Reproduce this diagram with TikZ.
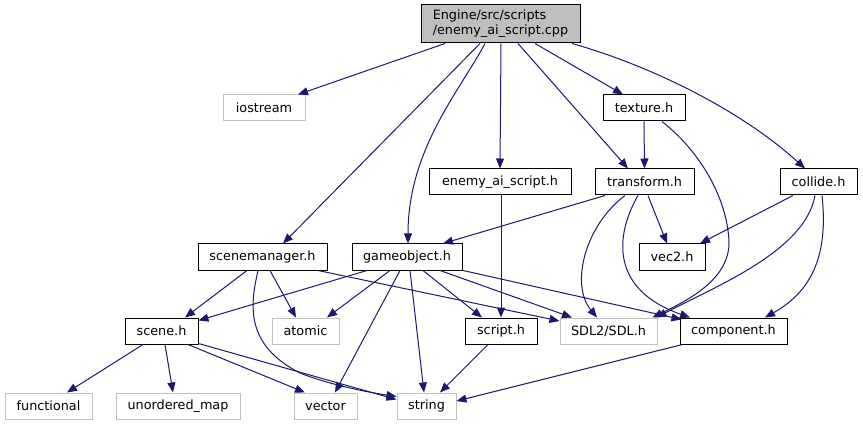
\documentclass[tikz,border=0pt]{standalone}
\usepackage{fontspec}
\setmainfont{DejaVu Sans}
\usetikzlibrary{arrows.meta}
\definecolor{edgeblue}{HTML}{191970}
\definecolor{lgray}{HTML}{BFBFBF}
\begin{document}
\begin{tikzpicture}[x=1pt,y=-1pt,
  every node/.style={font=\fontsize{12.8}{15}\selectfont, inner sep=0pt, minimum height=26pt, line width=1pt},
  inc/.style={draw=black, fill=white},
  sys/.style={draw=lgray, fill=white},
  edge/.style={draw=edgeblue, line width=1pt, -{Triangle[length=10pt,width=8pt]}, edgeblue}]
\useasboundingbox[fill=white] (0,0) rectangle (863,425);
% nodes
\node[draw=black, fill=lgray, minimum width=159pt, minimum height=38pt, align=left] (main) at (500.5,24) {Engine/src/scripts\\/enemy\_ai\_script.cpp};
\node[sys, minimum width=82pt] (iostream) at (264,108) {iostream};
\node[inc, minimum width=82pt] (texture) at (644,108) {texture.h};
\node[inc, minimum width=142pt] (enemy) at (500,182) {enemy\_ai\_script.h};
\node[inc, minimum width=99pt] (transform) at (644.5,182) {transform.h};
\node[inc, minimum width=77pt] (collide) at (818.5,182) {collide.h};
\node[inc, minimum width=129pt] (scenemgr) at (262.5,257) {scenemanager.h};
\node[inc, minimum width=110pt] (gameobj) at (407,257) {gameobject.h};
\node[inc, minimum width=66pt] (vec2) at (672,257) {vec2.h};
\node[inc, minimum width=73pt] (scene) at (161.5,331) {scene.h};
\node[sys, minimum width=67pt] (atomic) at (305.5,331) {atomic};
\node[inc, minimum width=72pt] (script) at (501,331) {script.h};
\node[sys, minimum width=97pt] (sdl) at (608.5,331) {SDL2/SDL.h};
\node[inc, minimum width=107pt] (component) at (733.5,331) {component.h};
\node[sys, minimum width=87pt] (functional) at (48.5,406) {functional};
\node[sys, minimum width=124pt] (umap) at (178,406) {unordered\_map};
\node[sys, minimum width=63pt] (vector) at (325.5,406) {vector};
\node[sys, minimum width=59pt] (string) at (426.5,406) {string};
% main edges
\draw[edge] ([xshift=-55.5pt]main.south) -- ([xshift=34pt]iostream.north);
\draw[edge] ([xshift=-20.5pt]main.south) -- ([xshift=20.5pt]scenemgr.north);
\draw[edge] ([xshift=-15.5pt]main.south) .. controls +(-25,47) and +(0,-94) .. ([xshift=1pt]gameobj.north);
\draw[edge] ([xshift=0.5pt]main.south) -- (enemy.north);
\draw[edge] ([xshift=17.5pt]main.south) -- ([xshift=-16.5pt]transform.north);
\draw[edge] ([xshift=34.5pt]main.south) -- ([xshift=-21pt]texture.north);
\draw[edge] ([xshift=71.5pt]main.south) .. controls +(78,22) and +(-65,-59) .. ([xshift=-13.5pt]collide.north);
% texture
\draw[edge] (texture.south) -- (transform.north);
\draw[edge] ([xshift=18pt]texture.south) .. controls +(43,34) and +(0,-40) .. (729,245) .. controls +(-2,35) and +(37,-18) .. ([xshift=44pt]sdl.north);
% enemy
\draw[edge] ([xshift=1pt]enemy.south) -- (script.north);
% transform
\draw[edge] ([xshift=-39.5pt]transform.south) -- ([xshift=36pt]gameobj.north);
\draw[edge] ([xshift=-19.5pt]transform.south) .. controls +(-40,30) and +(-27,-33) .. ([xshift=-11.5pt]sdl.north);
\draw[edge] ([xshift=-6.5pt]transform.south) .. controls +(-23,40) and +(-80,-28) .. ([xshift=-43.5pt]component.north);
\draw[edge] ([xshift=3.5pt]transform.south) -- ([xshift=-5pt]vec2.north);
% collide
\draw[edge] ([xshift=-25.5pt]collide.south) -- ([xshift=28pt]vec2.north);
\draw[edge] ([xshift=-3.5pt]collide.south) .. controls +(-10,55) and +(63,-33) .. ([xshift=48pt]sdl.north);
\draw[edge] ([xshift=3.5pt]collide.south) .. controls +(6,55) and +(50,-28) .. ([xshift=31.5pt]component.north);
% scenemanager
\draw[edge] ([xshift=-15.5pt]scenemgr.south) -- ([xshift=23.5pt]scene.north);
\draw[edge] ([xshift=7.5pt]scenemgr.south) -- ([xshift=-9.5pt]atomic.north);
\draw[edge] ([xshift=-4.5pt]scenemgr.south) .. controls +(-8,35) and +(-55,-28) .. (300,373) .. controls +(30,12) and +(-27,-4) .. ([yshift=-4pt]string.north west);
\draw[edge] ([xshift=55.5pt]scenemgr.south) -- ([yshift=10pt]sdl.west);
% gameobject
\draw[edge] ([xshift=-40pt]gameobj.south) -- ([yshift=-3pt]scene.north east);
\draw[edge] ([xshift=-17pt]gameobj.south) -- ([xshift=21.5pt]atomic.north);
\draw[edge] ([xshift=-7pt]gameobj.south) -- ([xshift=9.5pt]vector.north);
\draw[edge] ([xshift=3pt]gameobj.south) -- ([xshift=-2.5pt]string.north);
\draw[edge] ([xshift=16pt]gameobj.south) -- ([xshift=-19pt]script.north);
\draw[edge] ([xshift=33pt]gameobj.south) -- ([xshift=-36.5pt]sdl.north);
\draw[edge] ([xshift=56pt]gameobj.south) -- ([xshift=2pt,yshift=-2pt]component.north west);
% scene
\draw[edge] ([xshift=-18.5pt]scene.south) -- ([xshift=18.5pt]functional.north);
\draw[edge] ([xshift=3.5pt]scene.south) -- ([xshift=-5pt]umap.north);
\draw[edge] ([xshift=26.5pt]scene.south) -- ([xshift=-20.5pt]vector.north);
\draw[edge] ([yshift=1pt]scene.south east) -- ([yshift=-7pt]string.north west);
% script, component
\draw[edge] ([xshift=-13pt]script.south) -- ([xshift=13.5pt]string.north);
\draw[edge] ([xshift=3pt]component.south west) -- ([yshift=5pt]string.east);
\end{tikzpicture}
\end{document}
